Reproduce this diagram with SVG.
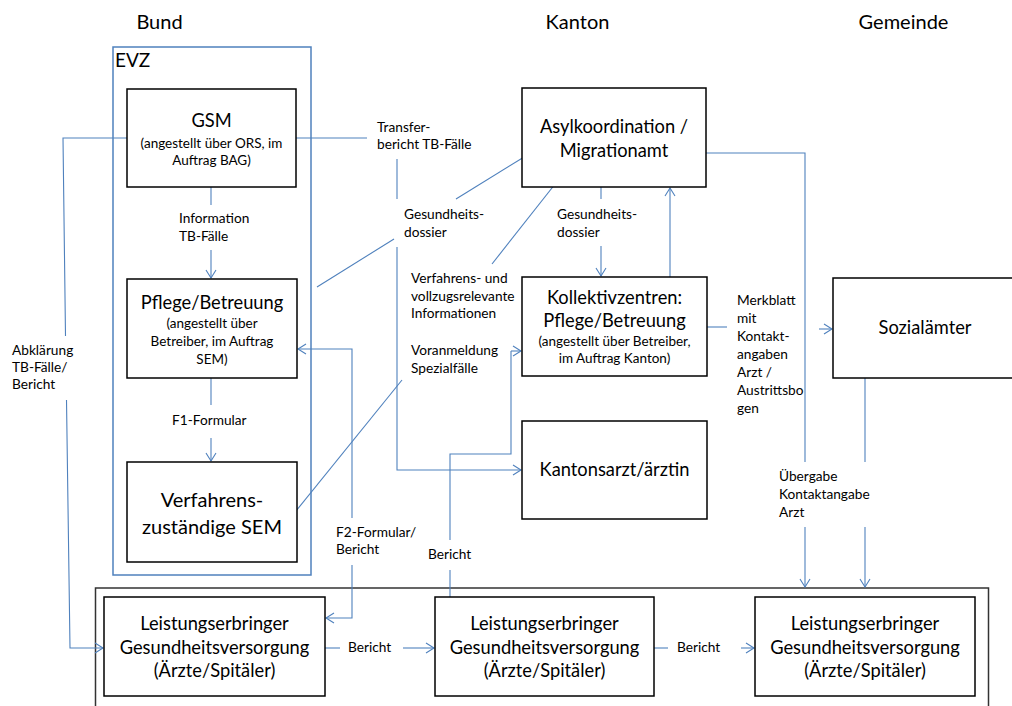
<svg xmlns="http://www.w3.org/2000/svg" width="1012" height="706" viewBox="0 0 1012 706">
<defs>
<marker id="arr" markerUnits="userSpaceOnUse" markerWidth="14" markerHeight="14" viewBox="-10 -7 12 14" refX="0" refY="0" orient="auto">
<path d="M-8,-5 L0,0 L-8,5" fill="none" stroke="#4f81bd" stroke-width="1.1"/>
</marker>
</defs>
<style>
text{font-family:Lato,"Open Sans","Liberation Sans",sans-serif;fill:#000}
.box{fill:#fff;stroke:#000;stroke-width:1.5}
.hdr{font-size:20px;text-anchor:middle}
.big{font-size:20px;text-anchor:middle}
.mid{font-size:18.3px;text-anchor:middle}
.sm{font-size:13.5px;text-anchor:middle}
.lbl{font-size:13.7px}
.le{font-size:18.3px;text-anchor:middle}
.c{fill:none;stroke:#4f81bd;stroke-width:1.1}
.a{marker-end:url(#arr)}
</style>
<rect width="1012" height="706" fill="#fff"/>
<g id="headers">
<text class="hdr" x="159.5" y="29">Bund</text>
<text class="hdr" x="577.5" y="29">Kanton</text>
<text class="hdr" x="903.5" y="29">Gemeinde</text>
</g>
<g id="evz">
<rect x="113" y="47" width="198" height="528" fill="none" stroke="#4f81bd" stroke-width="1.5"/>
<text x="115" y="67" style="font-size:19px">EVZ</text>
</g>
<g id="bottom-frame">
<rect x="95.5" y="588" width="893" height="130" fill="none" stroke="#333" stroke-width="1.5"/>
</g>
<g id="connectors">
<path class="c" d="M127,138 H63 L65.5,336"/>
<path class="c a" d="M66.5,400 L70,648 H103"/>
<path class="c" d="M296,138 H367"/>
<path class="c" d="M397,159 V199"/>
<path class="c a" d="M397,247 V470 H521"/>
<path class="c" d="M317,287 L394,239"/>
<path class="c a" d="M456,199 L542,146"/>
<path class="c" d="M296,511 L402,380"/>
<path class="c a" d="M492,264 L563,174"/>
<path class="c" d="M211,187 V205"/>
<path class="c a" d="M211,250 V278"/>
<path class="c" d="M211,378 V405"/>
<path class="c a" d="M211,438 V461"/>
<path class="c a" d="M352,518 V349 H298"/>
<path class="c a" d="M352,565 V618 H326"/>
<path class="c" d="M450,540 V454 H511 V351"/>
<path class="c a" d="M511,351 H521"/>
<path class="c" d="M450,570 V597"/>
<path class="c" d="M601,187 V199"/>
<path class="c a" d="M601,246 V276"/>
<path class="c a" d="M670,277 V188"/>
<path class="c" d="M706,153 H805 V462"/>
<path class="c a" d="M805,527 V587"/>
<path class="c" d="M865,378 V462"/>
<path class="c a" d="M865,527 V587"/>
<path class="c" d="M707,327 H727"/>
<path class="c a" d="M819,329 H832"/>
<path class="c" d="M325,648 H340"/>
<path class="c a" d="M403,648 H434"/>
<path class="c" d="M654,648 H668"/>
<path class="c a" d="M741,648 H754"/>
</g>
<g id="labels">
<text class="lbl" x="179" y="223">Information</text>
<text class="lbl" x="179" y="241">TB-Fälle</text>
<text class="lbl" x="172" y="425">F1-Formular</text>
<text class="lbl" x="12" y="355">Abklärung</text>
<text class="lbl" x="12" y="372">TB-Fälle/</text>
<text class="lbl" x="12" y="389">Bericht</text>
<text class="lbl" x="377" y="132">Transfer-</text>
<text class="lbl" x="377" y="149">bericht TB-Fälle</text>
<text class="lbl" x="404" y="219">Gesundheits-</text>
<text class="lbl" x="404" y="237">dossier</text>
<text class="lbl" x="411" y="283">Verfahrens- und</text>
<text class="lbl" x="411" y="301">vollzugsrelevante</text>
<text class="lbl" x="411" y="318">Informationen</text>
<text class="lbl" x="411" y="355">Voranmeldung</text>
<text class="lbl" x="411" y="373">Spezialfälle</text>
<text class="lbl" x="557" y="219">Gesundheits-</text>
<text class="lbl" x="557" y="237">dossier</text>
<text class="lbl" x="336" y="537">F2-Formular/</text>
<text class="lbl" x="336" y="554">Bericht</text>
<text class="lbl" x="428" y="559">Bericht</text>
<text class="lbl" x="737" y="305">Merkblatt</text>
<text class="lbl" x="737" y="323">mit</text>
<text class="lbl" x="737" y="341">Kontakt-</text>
<text class="lbl" x="737" y="359">angaben</text>
<text class="lbl" x="737" y="377">Arzt /</text>
<text class="lbl" x="737" y="395">Austrittsbo</text>
<text class="lbl" x="737" y="413">gen</text>
<text class="lbl" x="779" y="481">Übergabe</text>
<text class="lbl" x="779" y="499">Kontaktangabe</text>
<text class="lbl" x="779" y="517">Arzt</text>
<text class="lbl" x="348" y="652">Bericht</text>
<text class="lbl" x="677" y="652">Bericht</text>
</g>
<g id="gsm">
<rect class="box" x="127" y="89" width="169" height="98"/>
<text class="mid" x="211.5" y="127">GSM</text>
<text class="sm" x="211.5" y="148">(angestellt über ORS, im</text>
<text class="sm" x="211.5" y="165">Auftrag BAG)</text>
</g>
<g id="pflege">
<rect class="box" x="127" y="279" width="170" height="99"/>
<text class="mid" x="212" y="309">Pflege/Betreuung</text>
<text class="sm" x="212" y="328">(angestellt über</text>
<text class="sm" x="212" y="346">Betreiber, im Auftrag</text>
<text class="sm" x="212" y="364">SEM)</text>
</g>
<g id="sem">
<rect class="box" x="127" y="462" width="170" height="100"/>
<text class="big" x="212" y="507">Verfahrens-</text>
<text class="big" x="212" y="534">zuständige SEM</text>
</g>
<g id="asyl">
<rect class="box" x="522" y="88" width="184" height="99"/>
<text class="mid" x="614" y="133">Asylkoordination /</text>
<text class="mid" x="614" y="157">Migrationamt</text>
</g>
<g id="kollektiv">
<rect class="box" x="522" y="277" width="185" height="99"/>
<text class="mid" x="614.5" y="304">Kollektivzentren:</text>
<text class="mid" x="614.5" y="327">Pflege/Betreuung</text>
<text class="sm" x="614.5" y="346">(angestellt über Betreiber,</text>
<text class="sm" x="614.5" y="363">im Auftrag Kanton)</text>
</g>
<g id="kantonsarzt">
<rect class="box" x="522" y="421" width="185" height="98"/>
<text class="mid" x="614.5" y="476">Kantonsarzt/ärztin</text>
</g>
<g id="sozial">
<rect class="box" x="833" y="278" width="190" height="100"/>
<text class="mid" x="925" y="334">Sozialämter</text>
</g>
<g id="le1">
<rect class="box" x="104" y="597" width="221" height="99"/>
<text class="le" x="214.5" y="630">Leistungserbringer</text>
<text class="le" x="214.5" y="654">Gesundheitsversorgung</text>
<text class="le" x="214.5" y="677">(Ärzte/Spitäler)</text>
</g>
<g id="le2">
<rect class="box" x="435" y="597" width="219" height="99"/>
<text class="le" x="544.5" y="630">Leistungserbringer</text>
<text class="le" x="544.5" y="654">Gesundheitsversorgung</text>
<text class="le" x="544.5" y="677">(Ärzte/Spitäler)</text>
</g>
<g id="le3">
<rect class="box" x="755" y="597" width="220" height="99"/>
<text class="le" x="865" y="630">Leistungserbringer</text>
<text class="le" x="865" y="654">Gesundheitsversorgung</text>
<text class="le" x="865" y="677">(Ärzte/Spitäler)</text>
</g>
</svg>
